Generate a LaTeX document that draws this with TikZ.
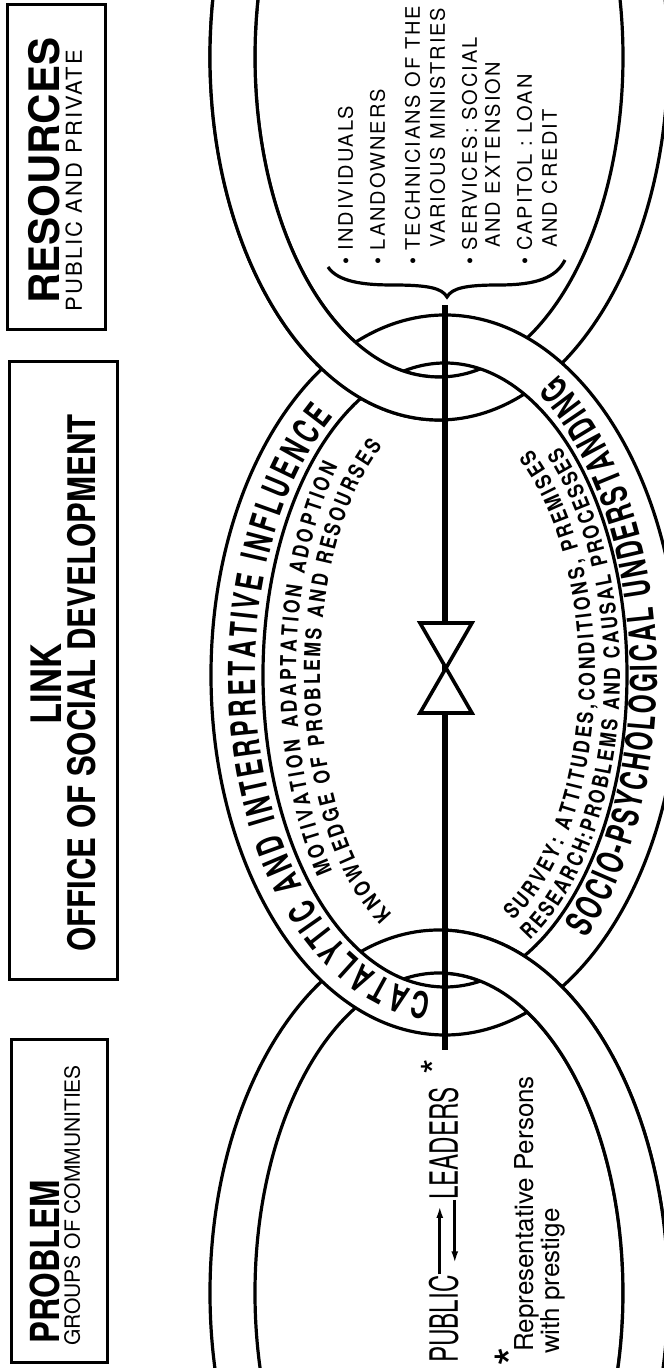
\documentclass[tikz,border=0pt]{standalone}
\usepackage{fontspec}
\setmainfont{TeX Gyre Heros}
\newfontfamily\condfont[FakeStretch=0.66]{TeX Gyre Heros}
\newfontfamily\innerfont[FakeStretch=0.8]{TeX Gyre Heros}
\newfontfamily\midfont[FakeStretch=0.82]{TeX Gyre Heros}
\newfontfamily\narrowfont[FakeStretch=0.62]{TeX Gyre Heros}
\newfontfamily\spacedfont[LetterSpace=10]{TeX Gyre Heros}
\usetikzlibrary{arrows.meta, positioning, decorations.text, calc}

\newcommand{\bandfnt}{\condfont\bfseries\fontsize{37}{40}\selectfont}
\newcommand{\innerfnt}{\innerfont\bfseries\fontsize{22}{26}\selectfont}

\begin{document}
\begin{tikzpicture}[
    x=1pt, y=1pt, rotate=90, transform shape,
    ring/.style={draw=black, line width=3.2pt, fill=white, even odd rule},
    headbox/.style={draw=black, line width=3pt, inner sep=0pt},
    head/.style={font=\midfont\bfseries\fontsize{40}{44}\selectfont, anchor=base west, inner sep=0pt},
    sub/.style={font=\fontsize{21}{25}\selectfont, anchor=base west, inner sep=0pt},
    item/.style={font=\spacedfont\fontsize{20}{24}\selectfont, anchor=base west, inner sep=0pt},
    lead/.style={font=\narrowfont\fontsize{39}{44}\selectfont, anchor=base west, inner sep=0pt},
    note/.style={font=\fontsize{26}{30}\selectfont, anchor=base west, inner sep=0pt},
    star/.style={font=\fontsize{40}{40}\selectfont, anchor=base, inner sep=0pt},
    arr/.style={-{Latex[length=12pt, width=7pt]}, line width=2.6pt},
    bar/.style={line width=6pt},
    valve/.style={draw=black, fill=white, line width=3.6pt, line join=miter},
    bandtext/.style={decorate, decoration={text along path, text align={fit to path}, text={#1}}}
]

\useasboundingbox (0,0) rectangle (1368,664);
\fill[white] (0,0) rectangle (1368,664);
\clip (0,0) rectangle (1368,664);

% ---------- Chain links ----------
\coordinate (left) at (75,225);
\coordinate (mid)  at (693,219);
\coordinate (right) at (1311,225);

\path[ring] (left) ellipse [x radius=363, y radius=229] (left) ellipse [x radius=320, y radius=184];
\path[ring] (right) ellipse [x radius=363, y radius=229] (right) ellipse [x radius=320, y radius=184];
\path[ring] (mid) ellipse [x radius=360, y radius=234] (mid) ellipse [x radius=312, y radius=182];

% side links pass over the middle one
\begin{scope}
\clip (-400,-60) rectangle (700,219);
\path[ring] (left) ellipse [x radius=363, y radius=229] (left) ellipse [x radius=320, y radius=184];
\end{scope}
\begin{scope}
\clip (690,219) rectangle (1800,720);
\path[ring] (right) ellipse [x radius=363, y radius=229] (right) ellipse [x radius=320, y radius=184];
\end{scope}

% ---------- Band texts ----------
\path[bandtext={|\bandfnt|CATALYTIC AND INTERPRETATIVE INFLUENCE}]
    ($(mid)+(176:319 and 190)$) arc[start angle=176, end angle=36, x radius=319, y radius=190];
\path[bandtext={|\bandfnt|SOCIO-PSYCHOLOGICAL UNDERSTANDING}]
    ($(mid)+(222:354 and 212)$) arc[start angle=222, end angle=328, x radius=354, y radius=212];

\path[bandtext={|\innerfnt|MOTIVATION ADAPTATION ADOPTION}]
    ($(mid)+(131:300 and 149)$) arc[start angle=131, end angle=46, x radius=300, y radius=149];
\path[bandtext={|\innerfnt|KNOWLEDGE OF PROBLEMS AND RESOURSES}]
    ($(mid)+(155:264 and 125)$) arc[start angle=155, end angle=30, x radius=264, y radius=125];
\path[bandtext={|\innerfnt|SURVEY: ATTITUDES,CONDITIONS, PREMISES}]
    ($(mid)+(207:276 and 150)$) arc[start angle=207, end angle=325, x radius=276, y radius=150];
\path[bandtext={|\innerfnt|RESEARCH:PROBLEMS AND CAUSAL PROCESSES}]
    ($(mid)+(209:303 and 175)$) arc[start angle=209, end angle=319, x radius=303, y radius=175];

% ---------- Head boxes ----------
\node[headbox, minimum width=323, minimum height=96] (problembox) at (166.5,604) {};
\node[headbox, minimum width=618, minimum height=108] (linkbox) at (697,600) {};
\node[headbox, minimum width=325, minimum height=98] (resourcebox) at (1200.5,607) {};

\node[head] (problem) at (24,604) {PROBLEM};
\node[sub] (groups) at (22,584) {GROUPS OF COMMUNITIES};
\node[head, font=\midfont\bfseries\fontsize{42}{46}\selectfont, anchor=base] (link) at (684,602) {LINK};
\node[head, font=\midfont\bfseries\fontsize{38}{42}\selectfont, anchor=base] (office) at (685,568) {OFFICE OF SOCIAL DEVELOPMENT};
\node[head, font=\bfseries\fontsize{42}{46}\selectfont] (resources) at (1064,604) {RESOURCES};
\node[sub, font=\spacedfont\fontsize{22}{26}\selectfont] (pubpriv) at (1056,582) {PUBLIC AND PRIVATE};

% ---------- Resource list ----------
\node[item] (indiv)   at (1103,311) {\textbullet\ INDIVIDUALS};
\node[item] (landown) at (1103,279) {\textbullet\ LANDOWNERS};
\node[item] (techn)   at (1103,244) {\textbullet\ TECHNICIANS OF THE};
\node[item] (various) at (1120,219) {VARIOUS MINISTRIES};
\node[item] (serv)    at (1103,187) {\textbullet\ SERVICES: SOCIAL};
\node[item] (ext)     at (1120,164) {AND EXTENSION};
\node[item] (capit)   at (1103,132) {\textbullet\ CAPITOL : LOAN};
\node[item] (credit)  at (1120,107) {AND CREDIT};

\draw[line width=3.2pt] (1101,336) .. controls (1086,326) and (1083,300) .. (1083,272)
    .. controls (1083,236) and (1080,222) .. (1071,217)
    .. controls (1080,212) and (1083,198) .. (1083,165)
    .. controls (1083,128) and (1090,108) .. (1108,99);

% ---------- Link bar and valve ----------
\coordinate (barL) at (318,219);
\coordinate (barR) at (1063,219);
\coordinate (valve) at (700,218);
\draw[bar] (barL) -- (barR);
\draw[valve] (valve) -- ++(-45,26) -- ++(0,-52) -- cycle;
\draw[valve] (valve) -- ++(45,26) -- ++(0,-52) -- cycle;

% ---------- Public / leaders ----------
\node[lead] (public)  at (5,206)   {PUBLIC};
\node[lead] (leaders) at (168,206) {LEADERS};
\node[star] (lstar) at (301,213) {*};
\draw[arr] ($(public.east)+(1,4)$) -- ($(leaders.west)+(-6,4)$);
\draw[arr] ($(leaders.west)+(0,-11)$) -- ($(public.east)+(12,-11)$);

\node[star, font=\fontsize{50}{50}\selectfont] (nstar) at (11,132) {*};
\node[note] (repr)  at (16,130) {Representative Persons};
\node[note] (prest) at (14,104) {with prestige};

\end{tikzpicture}
\end{document}
